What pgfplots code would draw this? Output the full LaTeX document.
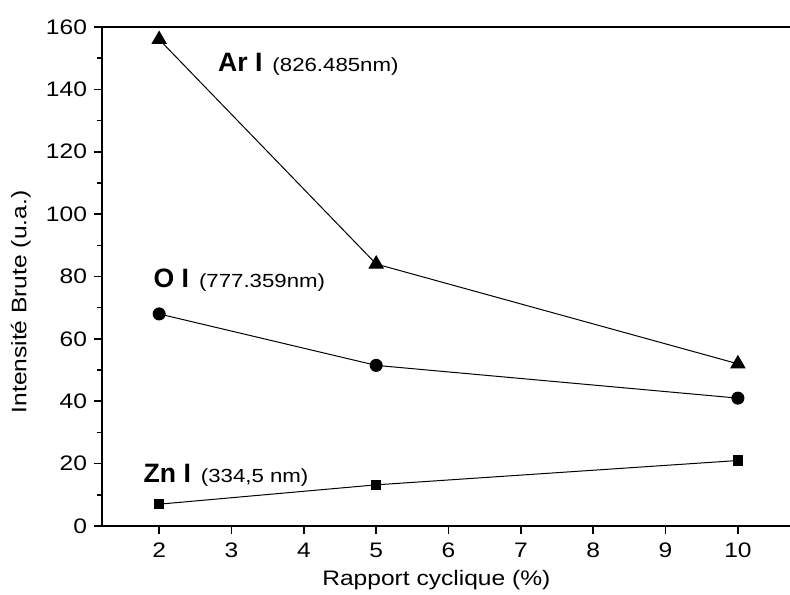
\documentclass[border=0pt]{standalone}
\usepackage{fontspec}
\setmainfont{Liberation Sans}[FakeStretch=1.17]
\newfontfamily\unstretched{Liberation Sans}
\newfontfamily\stretched[FakeStretch=1.17]{Liberation Sans}
\usepackage{pgfplots}
\pgfplotsset{compat=1.18}
\newcommand{\lbl}[2]{{\unstretched\fontsize{13.3}{15}\selectfont\bfseries #1}\hspace{5pt}{\stretched\fontsize{9.5}{11}\selectfont #2}}
\begin{document}
\begin{tikzpicture}
\begin{axis}[
  scale only axis,
  width=344pt, height=249.5pt,
  xmin=1.21, xmax=10.72,
  ymin=0, ymax=160,
  axis x line*=bottom,
  axis y line*=left,
  axis line style={line width=1pt, -},
  xtick={2,3,4,5,6,7,8,9,10},
  ytick={0,20,...,160},
  minor y tick num=1,
  tick align=outside,
  major tick length=4pt,
  minor tick length=2.5pt,
  tick style={line width=0.8pt, black},
  /pgf/number format/assume math mode=true,
  tick label style={font=\fontsize{10.5}{12}\selectfont},
  xticklabel style={yshift=-1pt},
  xlabel={Rapport cyclique (\%)},
  ylabel={Intensité Brute (u.a.)},
  label style={font=\fontsize{10.5}{12}\selectfont},
  xlabel style={at={(axis description cs:0.486,-0.108)}, anchor=center},
  ylabel style={at={(axis description cs:-0.118,0.449)}, anchor=center},
  clip=false,
]
\coordinate (bl) at (rel axis cs:0,0);
\coordinate (tr) at (rel axis cs:1,1);
\draw[line width=1pt] (rel axis cs:0,1) -- (rel axis cs:1,1);
\addplot[black, line width=0.5pt, mark=triangle*, mark size=4pt] coordinates {(2,156) (5,84) (10,52)};
\addplot[black, line width=0.5pt, mark=*, mark size=3pt] coordinates {(2,68) (5,51.5) (10,41)};
\addplot[black, line width=0.5pt, mark=square*, mark size=2.4pt] coordinates {(2,7) (5,13.2) (10,21)};
\node[anchor=base west, inner sep=0pt] at (axis cs:2.81,145.6) {\lbl{Ar I}{(826.485nm)}};
\node[anchor=base west, inner sep=0pt] at (axis cs:1.917,76.6) {\lbl{O I}{(777.359nm)}};
\node[anchor=base west, inner sep=0pt] at (axis cs:1.78,13.8) {\lbl{Zn I}{(334,5 nm)}};
\end{axis}
\pgfresetboundingbox
\path ([shift={(-51pt,-34pt)}]bl) rectangle ([yshift=13.5pt]tr);
\end{tikzpicture}
\end{document}
